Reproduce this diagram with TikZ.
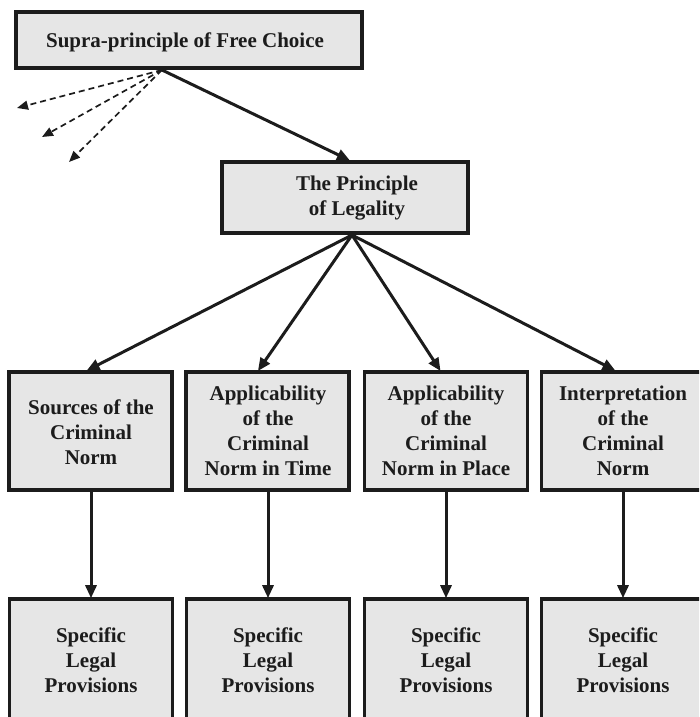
\documentclass[tikz,border=0pt]{standalone}
\usepackage{fontspec}
\setmainfont{Liberation Serif}
\usetikzlibrary{arrows.meta}
\definecolor{boxfill}{HTML}{E6E6E6}
\definecolor{ink}{HTML}{1C1C1C}
\begin{document}
\begin{tikzpicture}[x=1pt,y=-1pt,
  box/.style={draw=ink, fill=boxfill, line width=3.6pt, inner sep=0pt},
  midbox/.style={box, minimum width=163pt, minimum height=118pt},
  lowbox/.style={box, minimum width=163pt, minimum height=140pt},
  label/.style={text=ink, align=center, font=\fontsize{21}{25}\selectfont\bfseries, inner sep=0pt},
  arr/.style={draw=ink, line width=3pt, -{Triangle[length=13pt,width=11pt]}, shorten >=-1pt},
  darr/.style={draw=ink, line width=1.7pt, dash pattern=on 6pt off 4pt, -{Triangle[length=11pt,width=9pt]}}]
  \useasboundingbox (0,0) rectangle (699,717);
  \clip (0,0) rectangle (699,717);

  % top box and the principle box
  \node[box, minimum width=346pt, minimum height=56pt] (fc) at (189,40) {};
  \node[label] (fct) at (185,42) {Supra-principle of Free Choice};
  \node[box, minimum width=246pt, minimum height=71pt] (pl) at (345,197.5) {};
  \node[label] (plt) at (357,198) {The Principle\\of Legality};

  % second row; the last box runs past the right edge
  \node[midbox] (s1) at (90.5,431) {};
  \node[label] (s1t) at (91,432) {Sources of the\\Criminal\\Norm};
  \node[midbox] (s2) at (267.5,431) {};
  \node[label] (s2t) at (268,431) {Applicability\\of the\\Criminal\\Norm in Time};
  \node[midbox] (s3) at (446,431) {};
  \node[label] (s3t) at (446,431) {Applicability\\of the\\Criminal\\Norm in Place};
  \node[midbox, minimum width=180pt] (s4) at (631.5,431) {};
  \node[label] (s4t) at (623,431) {Interpretation\\of the\\Criminal\\Norm};

  % bottom row, cut by the lower edge
  \foreach \i/\x in {1/91,2/268,3/446}{
    \node[lowbox] (p\i) at (\x,669) {};
    \node[label] (p\i t) at (\x,660) {Specific\\Legal\\Provisions};
  }
  \node[lowbox, minimum width=180pt] (p4) at (631.5,669) {};
  \node[label] (p4t) at (623,660) {Specific\\Legal\\Provisions};

  % attach points
  \coordinate (fcOut) at (162,70);
  \coordinate (plIn) at (349,160);
  \coordinate (plOut) at (352,235);
  \coordinate (d1) at (17,108);
  \coordinate (d2) at (42,137);
  \coordinate (d3) at (69,162);

  % connectors
  \draw[arr] (fcOut) -- (plIn);
  \draw[darr] (fcOut) -- (d1);
  \draw[darr] (fcOut) -- (d2);
  \draw[darr] (fcOut) -- (d3);

  \draw[arr] (plOut) -- ([xshift=-3pt]s1.north);
  \draw[arr] (plOut) -- ([xshift=-9pt]s2.north);
  \draw[arr] (plOut) -- ([xshift=-6pt]s3.north);
  \draw[arr] (plOut) -- ([xshift=-17pt]s4.north);

  \foreach \i/\x in {1/91,2/268,3/446,4/623}{
    \draw[arr] (s\i.south -| p\i t) -- (p\i.north -| p\i t);
  }
\end{tikzpicture}
\end{document}
